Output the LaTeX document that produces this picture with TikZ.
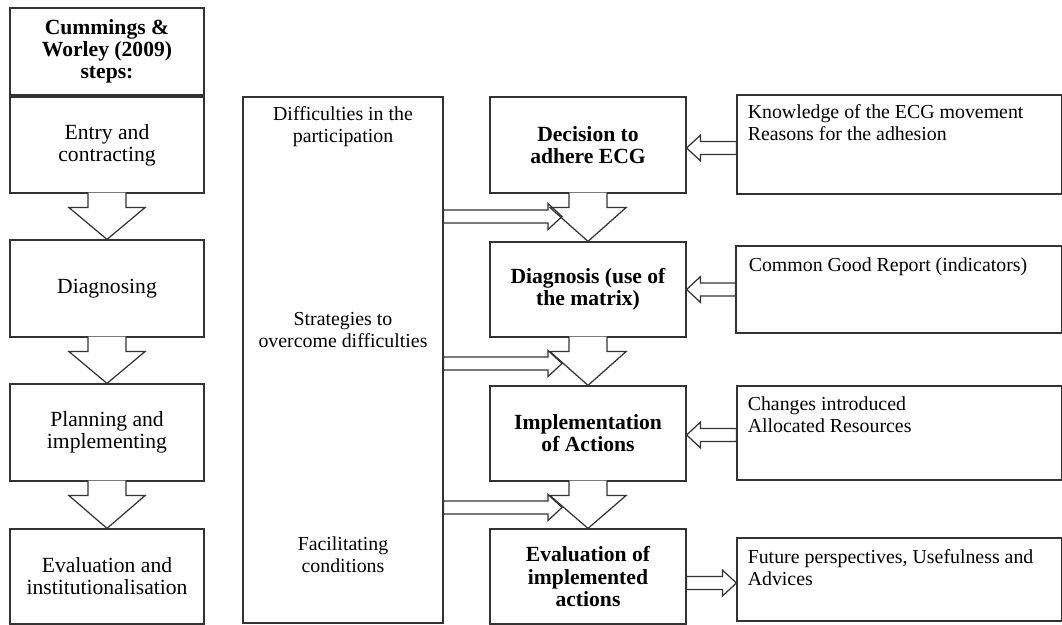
\documentclass[tikz,border=0pt]{standalone}
\usepackage{fontspec}
\setmainfont{Liberation Serif}
\usetikzlibrary{calc}

\tikzset{
  lbox/.style={draw=black!80,line width=.7pt,minimum width=3.88cm,align=center,
    font=\fontsize{12.3}{12.6}\selectfont},
  cbox/.style={lbox,minimum width=3.92cm,font=\bfseries\fontsize{12.3}{12.6}\selectfont},
  rbox/.style={draw=black!80,line width=.7pt,minimum width=6.5cm},
  note/.style={align=left,anchor=north west,inner sep=0pt,font=\fontsize{11.3}{12.5}\selectfont},
  midtext/.style={align=center,font=\fontsize{11.3}{12.5}\selectfont},
  downblock/.style={draw=black!80,line width=.7pt,fill=white,to path={
    let \p1=(\tikztostart), \p2=(\tikztotarget) in
    (\x1-0.38cm,\y1+0.02cm) -- (\x1-0.38cm,\y1-0.28cm) -- (\x1-0.76cm,\y1-0.28cm)
    -- (\p2) -- (\x1+0.76cm,\y1-0.28cm) -- (\x1+0.38cm,\y1-0.28cm) -- (\x1+0.38cm,\y1+0.02cm)}},
  hblock/.style={draw=black!80,line width=.7pt,to path={
    let \p1=(\tikztostart), \p2=(\tikztotarget),
        \p3=($(\tikztotarget)!0.28cm!(\tikztostart)$) in
    (\x1,\y1+0.13cm) -- (\x3,\y1+0.13cm) -- (\x3,\y1+0.26cm) -- (\x2,\y1)
    -- (\x3,\y1-0.26cm) -- (\x3,\y1-0.13cm) -- (\x1,\y1-0.13cm) -- cycle}}
}

\begin{document}
\begin{tikzpicture}[x=0.02cm,y=-0.02cm]
  \useasboundingbox (0,0) rectangle (1062,625);

  \node[lbox,minimum height=1.74cm,font=\bfseries\fontsize{12.3}{12.6}\selectfont] (cw) at (107,51.5)
    {Cummings \&\\Worley (2009)\\steps:};
  \node[lbox,minimum height=1.92cm] (entry) at (107,145) {Entry and\\contracting};
  \node[lbox,minimum height=1.94cm] (diag) at (107,288.5) {Diagnosing};
  \node[lbox,minimum height=1.94cm] (plan) at (107,432.5) {Planning and\\implementing};
  \node[lbox,minimum height=1.9cm] (evalinst) at (107,576.5) {Evaluation and\\institutionalisation};

  \node[draw=black!80,line width=.7pt,minimum width=4cm,minimum height=10.52cm] (mid) at (343,360) {};
  \node[midtext] (diff) at (343,127) {Difficulties in the\\participation};
  \node[midtext] (strat) at (343,330.5) {Strategies to\\overcome difficulties};
  \node[midtext] (facil) at (343,555) {Facilitating\\conditions};

  \node[cbox,minimum height=1.92cm] (adhere) at (588,145) {Decision to\\adhere ECG};
  \node[cbox,minimum height=1.9cm] (matrix) at (588,289.5) {Diagnosis (use of\\the matrix)};
  \node[cbox,minimum height=1.9cm] (actions) at (588,433.5) {Implementation\\of Actions};
  \node[cbox,minimum height=1.9cm] (evalact) at (588,576.5) {Evaluation of\\implemented\\actions};

  \node[rbox,minimum height=1.98cm] (know) at (899.5,144.5) {};
  \node[rbox,minimum height=1.74cm,minimum width=6.52cm] (report) at (899,289.5) {};
  \node[rbox,minimum height=1.88cm] (changes) at (899.5,433) {};
  \node[rbox,minimum height=1.66cm] (future) at (899.5,579.5) {};
  \node[note] at ([shift={(11,10)}]know.north west) {Knowledge of the ECG movement\\Reasons for the adhesion};
  \node[note] at ([shift={(13,12)}]report.north west) {Common Good Report (indicators)};
  \node[note] at ([shift={(11,11)}]changes.north west) {Changes introduced\\Allocated Resources};
  \node[note] at ([shift={(11,12)}]future.north west) {Future perspectives, Usefulness and\\Advices};

  \draw[downblock] (entry.south) to (diag.north);
  \draw[downblock] (diag.south) to (plan.north);
  \draw[downblock] (plan.south) to (evalinst.north);
  \draw[downblock] (adhere.south) to (matrix.north);
  \draw[downblock] (matrix.south) to (actions.north);
  \draw[downblock] (actions.south) to (evalact.north);

  \coordinate (in1) at (562,216.5);
  \coordinate (in2) at (562,363.5);
  \coordinate (in3) at (562,507.5);
  \draw[hblock] (mid.east |- in1) to (in1);
  \draw[hblock] (mid.east |- in2) to (in2);
  \draw[hblock] (mid.east |- in3) to (in3);

  \coordinate (k1) at ([shift={(0,3.5)}]know.west);
  \coordinate (k2) at (report.west);
  \coordinate (k3) at ([shift={(0,2)}]changes.west);
  \coordinate (k4) at ([shift={(0,3.5)}]future.west);
  \draw[hblock] (k1) to (adhere.east |- k1);
  \draw[hblock] (k2) to (matrix.east |- k2);
  \draw[hblock] (k3) to (actions.east |- k3);
  \draw[hblock] (evalact.east |- k4) to (k4);
\end{tikzpicture}
\end{document}
